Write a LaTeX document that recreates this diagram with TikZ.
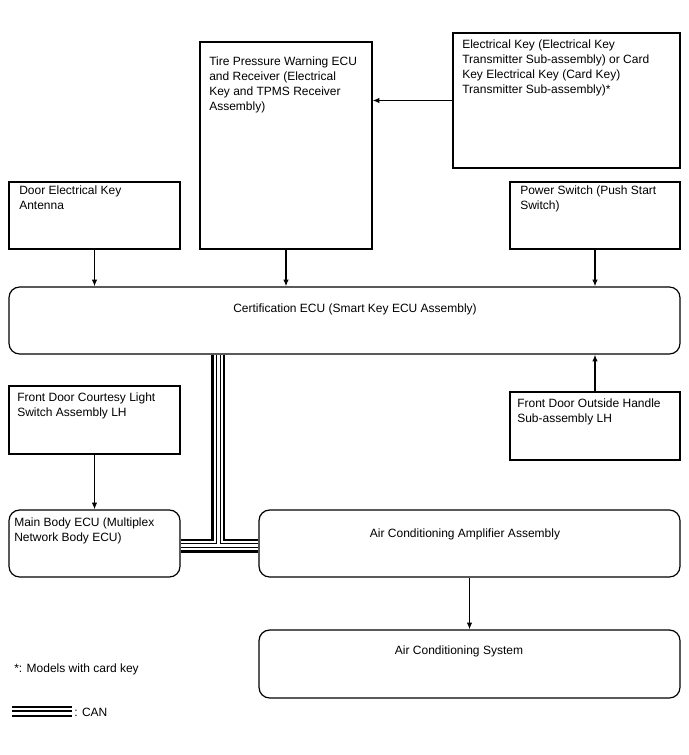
\documentclass[tikz,border=0pt]{standalone}
\usepackage{fontspec}
\setmainfont{Liberation Sans}
\usetikzlibrary{arrows.meta,fit}
\pgfdeclarelayer{bg}
\pgfsetlayers{bg,main}
\begin{document}
\begin{tikzpicture}[x=0.75pt,y=-0.75pt,
  box/.style={draw, line width=0.9pt, inner sep=0pt},
  rbox/.style={draw, line width=0.9pt, inner sep=0pt, rounded corners=8pt},
  lbl/.style={anchor=base west, inner sep=0pt, align=left, font=\fontsize{9}{11.25}\selectfont},
  clbl/.style={anchor=base, inner sep=0pt, align=center, font=\fontsize{9}{11.25}\selectfont},
  arr/.style={-{Latex[length=5pt,width=4pt]}, line width=0.9pt}]
\useasboundingbox (0,0) rectangle (688,755);

% boxes
\node[box, fit={(200,42)(372,249)}] (tire) {};
\node[box, fit={(453,33)(680,168)}] (ekey) {};
\node[box, fit={(9,182)(180,249)}] (ant) {};
\node[box, fit={(510,182)(680,249)}] (psw) {};
\node[rbox, fit={(9,287)(680,354)}] (cert) {};
\node[box, fit={(9,386)(180,454)}] (court) {};
\node[box, fit={(510,392)(680,460)}] (handle) {};
\node[rbox, fit={(9,510)(180,577)}] (main) {};
\node[rbox, fit={(259,510)(680,577)}] (amp) {};
\node[rbox, fit={(259,630)(680,698)}] (acs) {};

% texts (base anchor = baseline of the last line)
\node[lbl] (t1) at (209,111) {Tire Pressure Warning ECU\\and Receiver (Electrical\\Key and TPMS Receiver\\Assembly)};
\node[lbl] (t2) at (462,94) {Electrical Key (Electrical Key\\Transmitter Sub-assembly) or Card\\Key Electrical Key (Card Key)\\Transmitter Sub-assembly)*};
\node[lbl] (t3) at (19,210) {Door Electrical Key\\Antenna};
\node[lbl] (t4) at (520,210) {Power Switch (Push Start\\Switch)};
\node[clbl] (t5) at (355,312) {Certification ECU (Smart Key ECU Assembly)};
\node[lbl] (t6) at (17,416) {Front Door Courtesy Light\\Switch Assembly LH};
\node[lbl] (t7) at (517,422) {Front Door Outside Handle\\Sub-assembly LH};
\node[lbl] (t8) at (14,541) {Main Body ECU (Multiplex\\Network Body ECU)};
\node[clbl] (t9) at (465,537) {Air Conditioning Amplifier Assembly};
\node[clbl] (t10) at (459,654) {Air Conditioning System};
\node[lbl] (t11) at (14,672) {*: Models with card key};
\node[lbl] (t12) at (74,716) {: CAN};

% arrows
\draw[arr] (ekey.west) -- (ekey.west -| tire.east);
\draw[arr] (ant.south) -- (ant.south |- cert.north);
\draw[arr] (tire.south) -- (tire.south |- cert.north);
\draw[arr] (psw.south) -- (psw.south |- cert.north);
\draw[arr] (court.south) -- (court.south |- main.north);
\draw[arr] (handle.north) -- (handle.north |- cert.south);
\draw[arr] (amp.south) -- (amp.south |- acs.north);

% CAN bus
\coordinate (j) at (218,545.5);
\coordinate (lg1) at (12,711);
\coordinate (lg2) at (72,711);
\begin{pgfonlayer}{bg}
\foreach \w/\c in {14/black,9/white,5/black,3/white}{
  \draw[line width=\w*0.75pt, \c] (cert.south -| j) -- (j) (main.east |- j) -- (amp.west |- j);
}
\foreach \w/\c in {11/black,7/white,1.6/black}{
  \draw[line width=\w*0.75pt, \c] (lg1) -- (lg2);
}
\end{pgfonlayer}
\end{tikzpicture}
\end{document}
